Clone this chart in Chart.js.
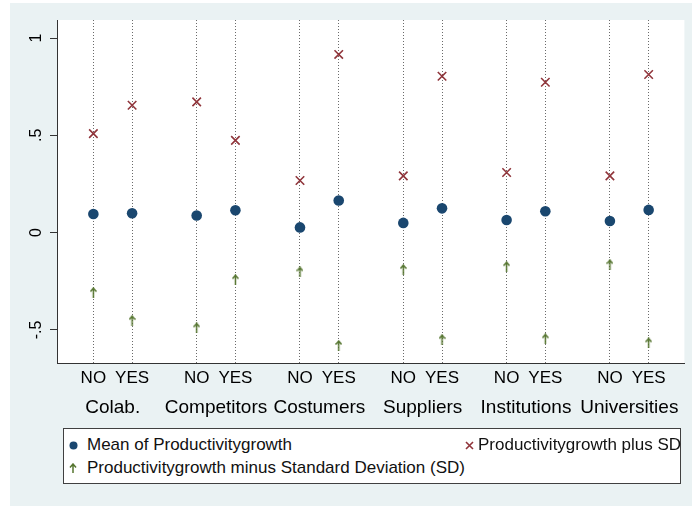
<!DOCTYPE html>
<html>
<head>
<meta charset="utf-8">
<title>Productivity growth</title>
<script src="https://cdn.jsdelivr.net/npm/chart.js@4/dist/chart.umd.min.js"></script>
<style>
body { margin: 0; background: #fff; }
#wrap { position: relative; width: 692px; height: 506px; }
#chart { position: absolute; left: 0; top: 0; }
#legend {
    position: absolute; left: 63px; top: 428px; width: 616px; height: 54px;
    border: 1px solid #404040; background: #fff;
    font-family: "Liberation Sans", Arial, sans-serif; font-size: 17px; color: #111;
}
.item { position: absolute; white-space: nowrap; line-height: 20px; }
.mark { position: absolute; }
</style>
</head>
<body>
<div id="wrap">
<canvas id="chart" width="692" height="506"></canvas>
<div id="legend">
    <svg class="mark" style="left:5px; top:12px" width="9" height="9"><circle cx="4.5" cy="4.5" r="4" fill="#1a476f"/></svg>
    <div class="item" style="left:23px; top:6px">Mean of Productivitygrowth</div>
    <svg class="mark" style="left:401px; top:12px" width="9" height="9"><path d="M1 1 L8 8 M8 1 L1 8" stroke="#90353b" stroke-width="1.6"/></svg>
    <div class="item" style="left:414px; top:6px">Productivitygrowth plus SD</div>
    <svg class="mark" style="left:5px; top:34px" width="8" height="10"><path d="M4 10 L4 1.5 M1 4.5 L4 1 L7 4.5" stroke="#55752f" stroke-width="1.5" fill="none"/></svg>
    <div class="item" style="left:23px; top:29px">Productivitygrowth minus Standard Deviation (SD)</div>
</div>
</div>
<script>
// data, NO then YES for each group
var groups = ["Colab.", "Competitors", "Costumers", "Suppliers", "Institutions", "Universities"];
var answers = ["NO", "YES"];
var meanGrowth = [0.096, 0.100, 0.088, 0.115, 0.027, 0.165, 0.050, 0.125, 0.065, 0.110, 0.060, 0.117];
var plusSD     = [0.509, 0.655, 0.672, 0.474, 0.268, 0.916, 0.292, 0.804, 0.309, 0.773, 0.292, 0.813];
var minusSD    = [-0.308, -0.452, -0.490, -0.242, -0.202, -0.580, -0.190, -0.550, -0.175, -0.546, -0.165, -0.567];
var yTicks = [-0.5, 0, 0.5, 1];

// x position of each point: group index, YES shifted right
var xPos = [];
for (var i = 0; i < meanGrowth.length; i++) {
    xPos.push(Math.floor(i / 2) + (i % 2) * 0.375);
}
var groupCenters = groups.map(function (g, i) { return i + 0.1875; });
var xMin = -0.352, xMax = 5.721;

function points(values) {
    return values.map(function (v, i) { return { x: xPos[i], y: v }; });
}

function makeArrow(color) {
    var c = document.createElement("canvas");
    c.width = 7;
    c.height = 11;
    var g = c.getContext("2d");
    g.strokeStyle = color;
    g.lineWidth = 1.5;
    g.beginPath();
    g.moveTo(3.5, 11);
    g.lineTo(3.5, 1.5);
    g.moveTo(0.5, 4.5);
    g.lineTo(3.5, 1);
    g.lineTo(6.5, 4.5);
    g.stroke();
    return c;
}

function stataNumber(v) {
    return String(v).replace("0.", ".");
}

var background = {
    id: "background",
    beforeDraw: function (chart) {
        var ctx = chart.ctx, a = chart.chartArea;
        ctx.save();
        ctx.fillStyle = "#eaf2f3";
        ctx.fillRect(10, 3, chart.width - 10, chart.height - 3);
        ctx.fillStyle = "#fff";
        ctx.fillRect(a.left, a.top, a.right - a.left, a.bottom - a.top);
        ctx.restore();
    }
};

Chart.defaults.font.family = '"Liberation Sans", Arial, sans-serif';
Chart.defaults.color = "#000";

new Chart(document.getElementById("chart").getContext("2d"), {
    type: "scatter",
    data: {
        datasets: [{
            label: "Mean of Productivitygrowth",
            data: points(meanGrowth),
            pointStyle: "circle",
            pointRadius: 5.3,
            backgroundColor: "#1a476f",
            borderColor: "#1a476f",
            borderWidth: 0
        }, {
            label: "Productivitygrowth plus SD",
            data: points(plusSD),
            pointStyle: "crossRot",
            pointRadius: 6,
            borderColor: "#90353b",
            borderWidth: 1.6
        }, {
            label: "Productivitygrowth minus Standard Deviation (SD)",
            data: points(minusSD),
            pointStyle: makeArrow("#55752f"),
            pointRadius: 5
        }]
    },
    options: {
        responsive: false,
        animation: false,
        layout: { padding: { left: 10, top: 20, right: 5, bottom: 85 } },
        plugins: { legend: { display: false }, tooltip: { enabled: false } },
        scales: {
            x: {
                type: "linear", min: xMin, max: xMax, position: "bottom", weight: 0,
                afterBuildTicks: function (s) { s.ticks = xPos.map(function (v) { return { value: v }; }); },
                afterFit: function (s) { s.height = 28; },
                ticks: {
                    autoSkip: false, maxRotation: 0, padding: 5, font: { size: 17 },
                    callback: function (v, i) { return answers[i % 2]; }
                },
                grid: { color: "#6a6a6a", lineWidth: 1, drawTicks: false },
                border: { display: true, color: "#333", width: 1, dash: [1, 2] }
            },
            xg: {
                type: "linear", min: xMin, max: xMax, position: "bottom", weight: 1,
                afterBuildTicks: function (s) { s.ticks = groupCenters.map(function (v) { return { value: v }; }); },
                afterFit: function (s) { s.height = 30; },
                ticks: {
                    autoSkip: false, maxRotation: 0, padding: 5, font: { size: 19 },
                    callback: function (v, i) { return groups[i]; }
                },
                grid: { display: false, drawTicks: false },
                border: { display: false }
            },
            y: {
                min: -0.67, max: 1.093,
                afterBuildTicks: function (s) { s.ticks = yTicks.map(function (v) { return { value: v }; }); },
                afterFit: function (s) { s.width = 47; },
                ticks: {
                    minRotation: 90, maxRotation: 90, crossAlign: "center", padding: 4,
                    font: { size: 16 },
                    callback: function (v) { return stataNumber(v); }
                },
                grid: { drawOnChartArea: false, drawTicks: true, tickLength: 7, color: "#333" },
                border: { color: "#333", width: 1 }
            }
        }
    },
    plugins: [background]
});
</script>
</body>
</html>
